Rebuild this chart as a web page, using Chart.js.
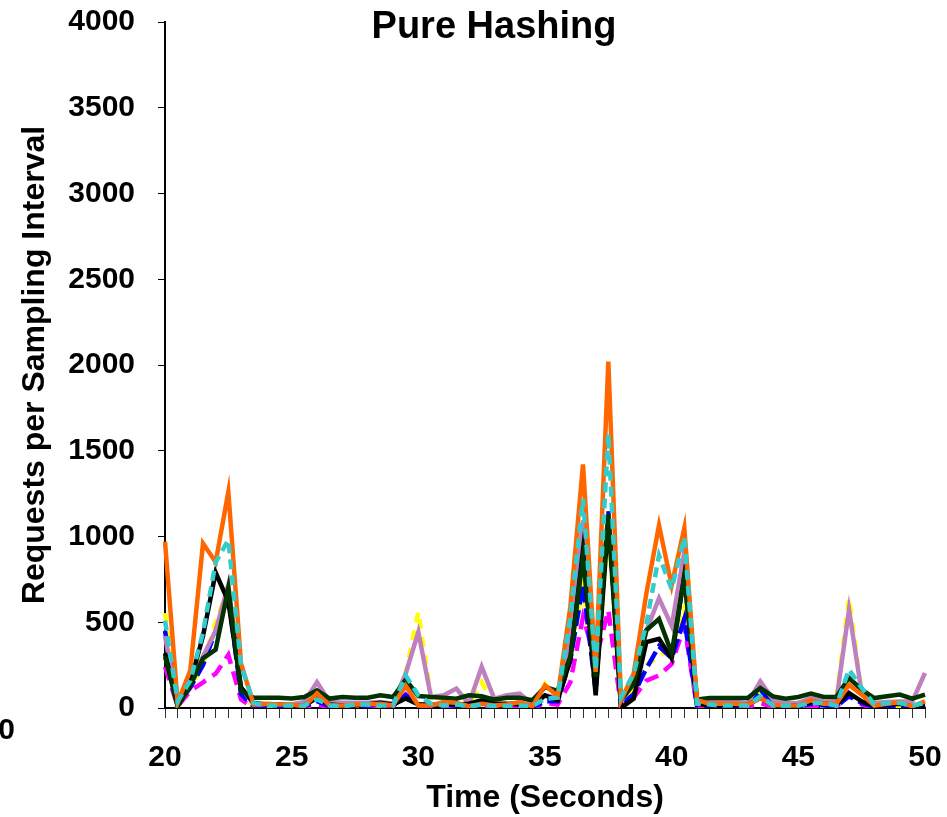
<!DOCTYPE html>
<html>
<head>
<meta charset="utf-8">
<script src="https://cdn.jsdelivr.net/npm/chart.js@4.4.1/dist/chart.umd.min.js"></script>
<style>
  html, body { margin: 0; padding: 0; background: #fff; }
  #wrap { position: relative; width: 947px; height: 817px; }
</style>
</head>
<body>
<div id="wrap"><canvas id="hashChart" width="947" height="817"></canvas></div>
<script>
// sampling instants, every half second from 20 s to 50 s
const times = [];
for (let i = 0; i <= 60; i++) times.push(20 + i * 0.5);

const yTicks = [0, 500, 1000, 1500, 2000, 2500, 3000, 3500, 4000];

// requests per sampling interval, one array per server
const orangeServer = [970, 30, 220, 960, 850, 1260, 260, 20, 25, 20, 20, 10, 85, 15, 15, 20, 20, 25, 15, 130,
  15, 15, 35, 30, 10, 25, 15, 21, 35, 10, 132, 70, 590, 1420, 210, 2020, 45, 200, 667, 1065,
  715, 1050, 45, 25, 25, 25, 19, 58, 19, 14, 14, 45, 25, 25, 136, 78, 14, 25, 33, 10, 39];
const cyanServer = [510, 40, 160, 440, 850, 980, 250, 30, 15, 15, 15, 15, 50, 15, 10, 20, 20, 15, 15, 190,
  74, 25, 15, 20, 10, 20, 10, 12, 15, 10, 54, 60, 530, 1220, 220, 1600, 64, 200, 490, 890,
  694, 995, 25, 20, 14, 14, 14, 68, 15, 14, 14, 29, 29, 14, 224, 117, 20, 29, 29, 14, 29];
const blackServer = [320, 10, 150, 420, 790, 620, 120, 30, 20, 20, 15, 15, 60, 20, 15, 15, 20, 30, 20, 55,
  20, 20, 20, 20, 25, 45, 25, 25, 20, 10, 74, 45, 280, 920, 74, 1100, 0, 54, 385, 404,
  290, 774, 23, 15, 15, 15, 19, 58, 19, 10, 14, 33, 25, 19, 87, 39, 10, 19, 25, 10, 19];
const greenServer = [300, 10, 130, 290, 340, 700, 100, 60, 60, 60, 55, 64, 103, 55, 64, 60, 60, 74, 64, 165,
  70, 64, 60, 54, 74, 68, 49, 60, 60, 45, 122, 100, 300, 880, 180, 1130, 45, 140, 453, 519,
  320, 764, 50, 58, 58, 58, 58, 117, 68, 54, 64, 84, 64, 64, 175, 107, 58, 68, 78, 54, 78];
const purpleServer = [420, 20, 140, 300, 450, 720, 120, 20, 20, 20, 20, 35, 150, 35, 30, 30, 30, 35, 25, 200,
  443, 64, 74, 113, 25, 240, 54, 74, 84, 25, 74, 60, 433, 1094, 200, 1130, 35, 160, 450, 640,
  478, 910, 43, 39, 35, 35, 29, 155, 49, 29, 30, 58, 35, 39, 573, 87, 29, 35, 38, 39, 204];
const blueServer = [450, 20, 120, 250, 450, 650, 80, 10, 10, 10, 10, 10, 40, 10, 10, 10, 15, 20, 15, 75,
  20, 15, 20, 15, 15, 30, 20, 20, 30, 5, 40, 40, 280, 720, 100, 1150, 20, 80, 230, 360,
  290, 520, 15, 10, 10, 10, 10, 110, 15, 10, 10, 25, 15, 10, 68, 30, 5, 10, 15, 5, 15];
const magentaServer = [240, 10, 100, 150, 200, 310, 50, 0, 5, 5, 5, 5, 20, 5, 5, 5, 5, 10, 10, 80,
  10, 5, 5, 5, 5, 20, 5, 5, 10, 0, 30, 20, 150, 530, 280, 570, 5, 60, 160, 190,
  256, 480, 5, 5, 5, 5, 5, 29, 5, 5, 5, 10, 5, 5, 87, 20, 0, 5, 5, 0, 10];
const yellowServer = [553, 10, 120, 250, 500, 700, 80, 10, 10, 10, 10, 10, 40, 10, 10, 10, 10, 15, 15, 200,
  560, 60, 40, 30, 10, 150, 20, 20, 30, 0, 140, 60, 350, 700, 150, 1050, 10, 130, 250, 300,
  350, 580, 10, 10, 10, 10, 10, 90, 10, 10, 10, 20, 10, 50, 640, 80, 5, 10, 10, 10, 30];

const FONT = '"Liberation Sans", Arial, sans-serif';

function line(label, data, color, dash) {
  return {
    label, data,
    borderColor: color,
    backgroundColor: color,
    borderWidth: 4.5,
    borderDash: dash || [],
    pointRadius: 0,
    tension: 0,
    fill: false
  };
}

// title sits inside the plot area, plus a stray label at the left edge
const overlayText = {
  id: 'overlayText',
  afterDraw(chart) {
    const ctx = chart.ctx;
    ctx.save();
    ctx.fillStyle = '#000';
    ctx.font = 'bold 38px ' + FONT;
    ctx.textAlign = 'center';
    ctx.textBaseline = 'middle';
    ctx.fillText('Pure Hashing', 494, 28);
    ctx.font = 'bold 30px ' + FONT;
    ctx.textAlign = 'right';
    ctx.fillText('0', 15, 731);
    ctx.restore();
  }
};

new Chart(document.getElementById('hashChart'), {
  type: 'line',
  data: {
    labels: times,
    datasets: [
      line('Server 8', cyanServer, '#33CCCC', [10, 6]),
      line('Server 7', orangeServer, '#FF6600'),
      line('Server 6', greenServer, '#003300'),
      line('Server 5', blackServer, '#000000'),
      line('Server 4', purpleServer, '#BF80BF'),
      line('Server 3', blueServer, '#0000FF', [16, 6]),
      line('Server 2', magentaServer, '#FF00FF', [14, 8]),
      line('Server 1', yellowServer, '#FFFF00', [10, 8])
    ]
  },
  options: {
    responsive: false,
    animation: false,
    layout: { padding: { top: 22, right: 22, left: 0, bottom: 0 } },
    plugins: {
      legend: { display: false },
      tooltip: { enabled: false }
    },
    scales: {
      x: {
        type: 'category',
        offset: false,
        border: { display: true, color: '#000', width: 2 },
        grid: { display: true, drawOnChartArea: false, drawTicks: true, tickLength: 10, color: '#333', lineWidth: 1 },
        ticks: {
          autoSkip: false,
          maxRotation: 0,
          padding: 22,
          color: '#000',
          font: { family: FONT, size: 30, weight: 'bold' },
          callback(value, index) {
            const t = times[index];
            return t % 5 === 0 ? String(t) : '';
          }
        },
        title: {
          display: true,
          text: 'Time (Seconds)',
          color: '#000',
          font: { family: FONT, size: 32, weight: 'bold' },
          padding: { top: 0, bottom: 0 }
        },
        afterFit(scale) {
          scale.height = 109;
          scale.paddingLeft = 0;
          scale.paddingRight = 0;
        }
      },
      y: {
        min: 0,
        max: 4000,
        afterBuildTicks(scale) { scale.ticks = yTicks.map(v => ({ value: v })); },
        border: { display: true, color: '#000', width: 2 },
        grid: { display: true, drawOnChartArea: false, drawTicks: true, tickLength: 7, color: '#000', lineWidth: 1 },
        ticks: {
          padding: 23,
          color: '#000',
          font: { family: FONT, size: 30, weight: 'bold' },
          callback(value) { return String(value); }
        },
        title: {
          display: true,
          text: 'Requests per Sampling Interval',
          color: '#000',
          font: { family: FONT, size: 32, weight: 'bold' },
          padding: { top: 16, bottom: 0 }
        },
        afterFit(scale) {
          scale.width = 165;
          scale.paddingTop = 0;
          scale.paddingBottom = 0;
        }
      }
    }
  },
  plugins: [overlayText]
});
</script>
</body>
</html>
